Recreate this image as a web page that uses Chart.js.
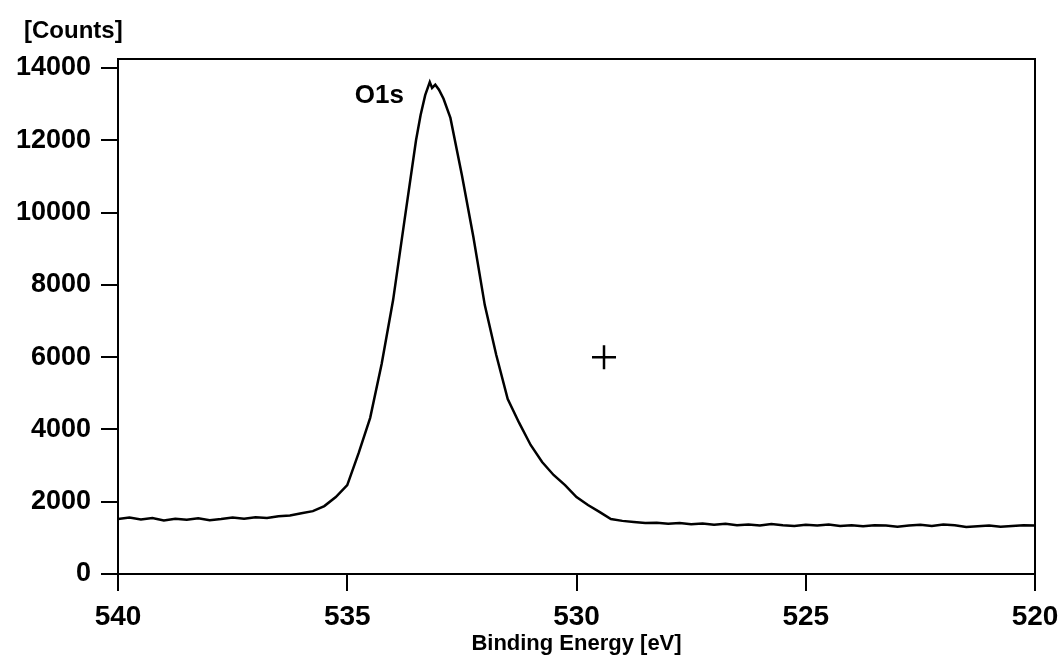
<!DOCTYPE html>
<html>
<head>
<meta charset="utf-8">
<script src="https://cdn.jsdelivr.net/npm/chart.js@4"></script>
<style>
  html, body { margin: 0; padding: 0; background: #fff; }
  #wrap { width: 1061px; height: 658px; }
</style>
</head>
<body>
<div id="wrap"><canvas id="xpsChart" width="1061" height="658"></canvas></div>
<script>
// binding energy [eV]
const energy = [
    540.00, 539.75, 539.50, 539.25, 539.00, 538.75, 538.50, 538.25, 538.00, 537.75,
    537.50, 537.25, 537.00, 536.75, 536.50, 536.25, 536.00, 535.75, 535.50, 535.25,
    535.00, 534.75, 534.50, 534.25, 534.00, 533.75, 533.50, 533.40, 533.30, 533.20,
    533.15, 533.08, 533.00, 532.90, 532.75, 532.50, 532.25, 532.00, 531.75, 531.50,
    531.25, 531.00, 530.75, 530.50, 530.25, 530.00, 529.75, 529.50, 529.25, 529.00,
    528.75, 528.50, 528.25, 528.00, 527.75, 527.50, 527.25, 527.00, 526.75, 526.50,
    526.25, 526.00, 525.75, 525.50, 525.25, 525.00, 524.75, 524.50, 524.25, 524.00,
    523.75, 523.50, 523.25, 523.00, 522.75, 522.50, 522.25, 522.00, 521.75, 521.50,
    521.25, 521.00, 520.75, 520.50, 520.25, 520.00
];

// counts
const counts = [
    1520, 1560, 1510, 1550, 1480, 1530, 1500, 1540, 1490, 1520,
    1560, 1530, 1570, 1550, 1600, 1620, 1680, 1740, 1880, 2130,
    2460, 3350, 4320, 5810, 7580, 9800, 12000, 12700, 13250, 13610,
    13450, 13540, 13400, 13150, 12620, 11040, 9330, 7440, 6060, 4840,
    4180, 3570, 3100, 2740, 2460, 2130, 1910, 1720, 1520, 1470,
    1440, 1410, 1420, 1390, 1410, 1380, 1400, 1360, 1390, 1350,
    1370, 1340, 1380, 1350, 1330, 1360, 1340, 1370, 1330, 1350,
    1320, 1350, 1340, 1310, 1340, 1360, 1330, 1370, 1350, 1300,
    1320, 1340, 1310, 1330, 1350, 1340
];

const yTicks = [0, 2000, 4000, 6000, 8000, 10000, 12000, 14000];
const xTicks = [540, 535, 530, 525, 520];

// cursor cross and peak label
const cursorPoint = [{ x: 529.4, y: 6000 }];
const peakLabel = { text: 'O1s', x: 534.3, y: 13230 };

const FONT = '"Liberation Sans", Arial, sans-serif';

const framePlugin = {
    id: 'frame',
    afterDraw(chart) {
        const { ctx, chartArea: a, scales } = chart;
        ctx.save();
        ctx.strokeStyle = '#000';
        ctx.lineWidth = 2;
        ctx.strokeRect(a.left, a.top, a.right - a.left, a.bottom - a.top);

        ctx.fillStyle = '#000';
        ctx.font = 'bold 24px ' + FONT;
        ctx.textAlign = 'left';
        ctx.textBaseline = 'middle';
        ctx.fillText('[Counts]', 24, 31);

        ctx.font = 'bold 26px ' + FONT;
        ctx.textAlign = 'center';
        ctx.fillText(peakLabel.text, scales.x.getPixelForValue(peakLabel.x), scales.y.getPixelForValue(peakLabel.y));

        ctx.font = 'bold 22px ' + FONT;
        ctx.textBaseline = 'top';
        ctx.fillText('Binding Energy [eV]', (a.left + a.right) / 2, 633);
        ctx.restore();
    }
};

const ctx = document.getElementById('xpsChart').getContext('2d');
new Chart(ctx, {
    type: 'scatter',
    data: {
        datasets: [{
            data: energy.map((e, i) => ({ x: e, y: counts[i] })),
            showLine: true,
            borderColor: '#000',
            borderWidth: 2.5,
            pointRadius: 0,
            tension: 0
        }, {
            data: cursorPoint,
            pointStyle: 'cross',
            pointRadius: 12,
            borderColor: '#000',
            borderWidth: 2.5
        }]
    },
    options: {
        responsive: false,
        animation: false,
        layout: { padding: { top: 59, right: 26, left: 0, bottom: 0 } },
        plugins: {
            legend: { display: false },
            tooltip: { enabled: false }
        },
        scales: {
            x: {
                type: 'linear',
                reverse: true,
                min: 520,
                max: 540,
                afterBuildTicks: scale => { scale.ticks = xTicks.map(v => ({ value: v })); },
                afterFit: scale => {
                    scale.height = 84;
                    scale.paddingLeft = 0;
                    scale.paddingRight = 0;
                },
                grid: { drawOnChartArea: false, tickLength: 17, color: '#000', lineWidth: 2 },
                border: { display: true, color: '#000', width: 2 },
                ticks: {
                    color: '#000',
                    padding: 9,
                    maxRotation: 0,
                    callback: v => String(v),
                    font: { family: FONT, size: 28, weight: 'bold' }
                }
            },
            y: {
                min: 0,
                max: 14250,
                afterBuildTicks: scale => { scale.ticks = yTicks.map(v => ({ value: v })); },
                afterFit: scale => { scale.width = 118; },
                grid: { drawOnChartArea: false, tickLength: 17, color: '#000', lineWidth: 2 },
                border: { display: true, color: '#000', width: 2 },
                ticks: {
                    color: '#000',
                    padding: 10,
                    callback: v => String(v),
                    font: { family: FONT, size: 27, weight: 'bold' }
                }
            }
        }
    },
    plugins: [framePlugin]
});
</script>
</body>
</html>
